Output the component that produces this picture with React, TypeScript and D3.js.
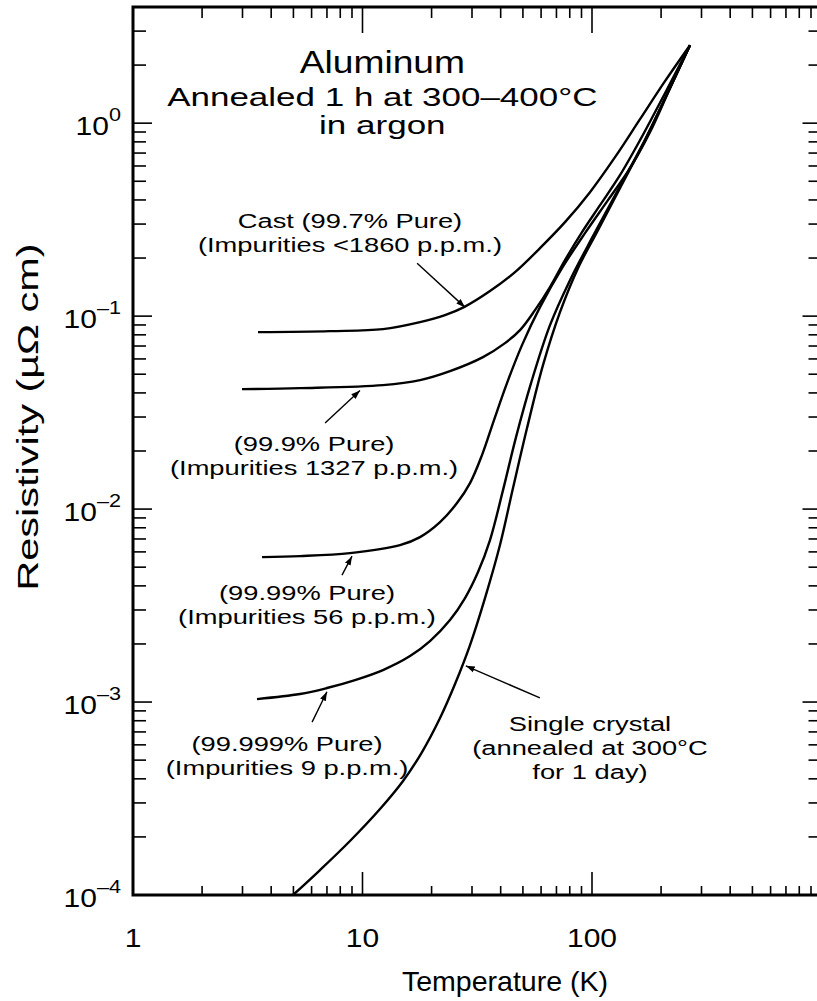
import React from "react";
import * as d3 from "d3";

const WIDTH = 817;
const HEIGHT = 1001;
const FONT = "'Liberation Sans', Arial, Helvetica, sans-serif";

// temperature (K) / resistivity (µΩ cm)
const castTemp = [3.505, 7.22, 12.28, 17.81, 22.88, 27.69, 35.94, 46.19, 59.35, 76.27, 98.0, 126.0, 161.9, 208.0, 267.3];
const castRho = [0.0826, 0.0836, 0.0856, 0.0931, 0.1012, 0.1113, 0.1348, 0.169, 0.2251, 0.3069, 0.439, 0.6665, 1.049, 1.651, 2.536];

const pure3Temp = [2.985, 5.34, 12.28, 17.81, 24.06, 33.5, 41.78, 48.57, 56.45, 65.61, 76.27, 90.47, 108.4, 132.4, 161.9, 208.0, 267.3];
const pure3Rho = [0.04185, 0.04235, 0.0439, 0.04661, 0.05188, 0.06133, 0.07246, 0.08463, 0.1074, 0.1414, 0.1951, 0.2724, 0.3759, 0.5377, 0.8164, 1.43, 2.536];

const pure4Temp = [3.65, 5.34, 8.82, 14.57, 17.81, 21.77, 25.81, 29.41, 33.17, 37.41, 42.62, 49.55, 59.35, 74.0, 93.21, 117.4, 146.4, 178.9, 218.8, 267.3];
const pure4Rho = [0.00564, 0.005707, 0.005916, 0.00651, 0.00716, 0.00856, 0.01074, 0.01363, 0.01905, 0.02891, 0.04495, 0.07074, 0.1113, 0.1773, 0.2692, 0.3991, 0.5846, 0.8982, 1.518, 2.536];

const pure5Temp = [3.47, 5.34, 7.0, 9.28, 12.28, 16.11, 19.68, 24.06, 27.97, 31.87, 35.94, 40.95, 46.66, 54.24, 65.61, 80.2, 101.0, 132.4, 170.2, 214.4, 267.3];
const pure5Rho = [0.001036, 0.0011, 0.001182, 0.0013, 0.001465, 0.001731, 0.00207, 0.00266, 0.003458, 0.004716, 0.00691, 0.01254, 0.0236, 0.04495, 0.0898, 0.1536, 0.2597, 0.47, 0.82, 1.45, 2.536];

const singleTemp = [4.98, 6.53, 8.82, 11.92, 15.02, 18.17, 21.77, 25.3, 29.41, 34.18, 39.72, 45.27, 52.11, 61.16, 72.54, 86.9, 106.2, 132.4, 170.2, 214.4, 267.3];
const singleRho = [0.0001, 0.0001347, 0.0001905, 0.000279, 0.0003897, 0.0005507, 0.0008266, 0.00124, 0.001974, 0.003458, 0.00651, 0.01285, 0.02629, 0.05572, 0.1049, 0.1773, 0.279, 0.4604, 0.8164, 1.447, 2.536];

const xTickLabels = [1, 10, 100];
const yTickLabels = [1e-4, 1e-3, 1e-2, 1e-1, 1];

const titleLines = ["Aluminum", "Annealed 1 h at 300–400°C", "in argon"];
// annotation text: [T, rho] anchor of the first line
const labelAnchors = [
  { t: 8.82, r: 0.286, lines: ["Cast (99.7% Pure)", "(Impurities <1860 p.p.m.)"] },
  { t: 6.15, r: 0.02, lines: ["(99.9% Pure)", "(Impurities 1327 p.p.m.)"] },
  { t: 5.73, r: 0.00338, lines: ["(99.99% Pure)", "(Impurities 56 p.p.m.)"] },
  { t: 4.69, r: 0.000557, lines: ["(99.999% Pure)", "(Impurities 9 p.p.m.)"] },
  { t: 98, r: 0.000708, lines: ["Single crystal", "(annealed at 300°C", "for 1 day)"] },
];
// arrows: tail [T, rho] -> head [T, rho]
const arrowTails = [[17.3, 0.188], [6.87, 0.0279], [8.14, 0.00455], [6.03, 0.000787], [59.3, 0.00105]];
const arrowHeads = [[28.0, 0.111], [9.75, 0.0412], [9.0, 0.0057], [7.0, 0.00113], [28.2, 0.00154]];

const margin = { left: 133, top: 7, bottom: 895 };

function SText({ x, y, size, sx = 1.3, anchor = "middle", rotate = 0, children }: any) {
  return (
    <text
      transform={`translate(${x},${y}) rotate(${rotate}) scale(${sx},1)`}
      fontSize={size}
      textAnchor={anchor}
      fontFamily={FONT}
      fill="#000"
    >
      {children}
    </text>
  );
}

export default function App() {
  const x = d3.scaleLog().domain([1, 1000]).range([margin.left, margin.left + 3 * 229.5]);
  const y = d3.scaleLog().domain([1e-4, 4]).range([margin.bottom, margin.top]);

  const series = [
    [castTemp, castRho],
    [pure3Temp, pure3Rho],
    [pure4Temp, pure4Rho],
    [pure5Temp, pure5Rho],
    [singleTemp, singleRho],
  ];

  const line = d3
    .line<[number, number]>()
    .x((d) => x(d[0]))
    .y((d) => y(d[1]))
    .curve(d3.curveCatmullRom.alpha(0.5));

  const xTicks = x.ticks().filter((t) => t > 1 && t < 1000);
  const yTicks = y.ticks();
  const isDecade = (v: number) => Math.abs(Math.log10(v) - Math.round(Math.log10(v))) < 1e-6;

  const x0 = x.range()[0];
  const x1 = x.range()[1];
  const y0 = y.range()[0];
  const y1 = y.range()[1];

  return (
    <svg width={WIDTH} height={HEIGHT} style={{ position: "absolute", left: 0, top: 0, background: "#fff" }}>
      <defs>
        <clipPath id="plot">
          <rect x={x0} y={y1} width={x1 - x0} height={y0 - y1} />
        </clipPath>
        <marker id="arr" viewBox="0 0 10 10" refX="10" refY="5" markerWidth="9" markerHeight="9" orient="auto" markerUnits="userSpaceOnUse">
          <path d="M0,1.5 L10,5 L0,8.5 Z" fill="#000" />
        </marker>
      </defs>
      <rect width={WIDTH} height={HEIGHT} fill="#fff" />

      {/* ticks */}
      <g stroke="#000" strokeWidth={1.6}>
        {xTicks.map((t) => (
          <g key={"x" + t}>
            <line x1={x(t)} x2={x(t)} y1={y0} y2={y0 - (isDecade(t) ? 23 : 9)} />
            <line x1={x(t)} x2={x(t)} y1={y1} y2={y1 + (isDecade(t) ? 26 : 11)} />
          </g>
        ))}
        {yTicks.map((t) => (
          <g key={"y" + t}>
            <line x1={x0} x2={x0 + (isDecade(t) ? 19 : 13)} y1={y(t)} y2={y(t)} />
            <line x1={x1} x2={x1 - (isDecade(t) ? 19 : 13)} y1={y(t)} y2={y(t)} />
          </g>
        ))}
      </g>

      {/* frame */}
      <rect x={x0} y={y1} width={x1 - x0} height={y0 - y1} fill="none" stroke="#000" strokeWidth={3} />

      {/* curves */}
      <g clipPath="url(#plot)" fill="none" stroke="#000" strokeWidth={2.4}>
        {series.map(([ts, rs], i) => (
          <path key={i} d={line(ts.map((t, j) => [t, rs[j]]) as [number, number][]) || ""} />
        ))}
      </g>

      {/* arrows */}
      <g stroke="#000" strokeWidth={1.4}>
        {arrowTails.map((a, i) => (
          <line key={i} x1={x(a[0])} y1={y(a[1])} x2={x(arrowHeads[i][0])} y2={y(arrowHeads[i][1])} markerEnd="url(#arr)" />
        ))}
      </g>

      {/* tick labels */}
      {xTickLabels.map((t) => (
        <SText key={"xl" + t} x={x(t)} y={y0 + 52} size={25} sx={1.2}>
          {t}
        </SText>
      ))}
      {yTickLabels.map((t) => {
        const e = Math.round(Math.log10(t));
        return (
          <text
            key={"yl" + t}
            transform={`translate(${x0 - 12},${y(t) + 12}) scale(1.2,1)`}
            textAnchor="end"
            fontFamily={FONT}
            fontSize={25}
          >
            <tspan>10</tspan>
            <tspan dy={-14} fontSize={18}>
              {e === 0 ? "0" : "–" + Math.abs(e)}
            </tspan>
          </text>
        );
      })}

      {/* axis titles */}
      <SText x={505} y={991} size={28} sx={1.02}>
        Temperature (K)
      </SText>
      <SText x={38} y={417} size={29} sx={1.43} rotate={-90}>
        Resistivity (µΩ cm)
      </SText>

      {/* title */}
      <SText x={x(12.2)} y={y(1.82)} size={31} sx={1.2}>
        {titleLines[0]}
      </SText>
      <SText x={x(12.2)} y={y(1.82) + 33} size={25} sx={1.4}>
        {titleLines[1]}
      </SText>
      <SText x={x(12.2)} y={y(1.82) + 61} size={25} sx={1.4}>
        {titleLines[2]}
      </SText>

      {/* curve labels */}
      {labelAnchors.map((l, i) =>
        l.lines.map((s, j) => (
          <SText key={i + "-" + j} x={x(l.t)} y={y(l.r) + j * 24} size={21} sx={1.3}>
            {s}
          </SText>
        ))
      )}
    </svg>
  );
}
